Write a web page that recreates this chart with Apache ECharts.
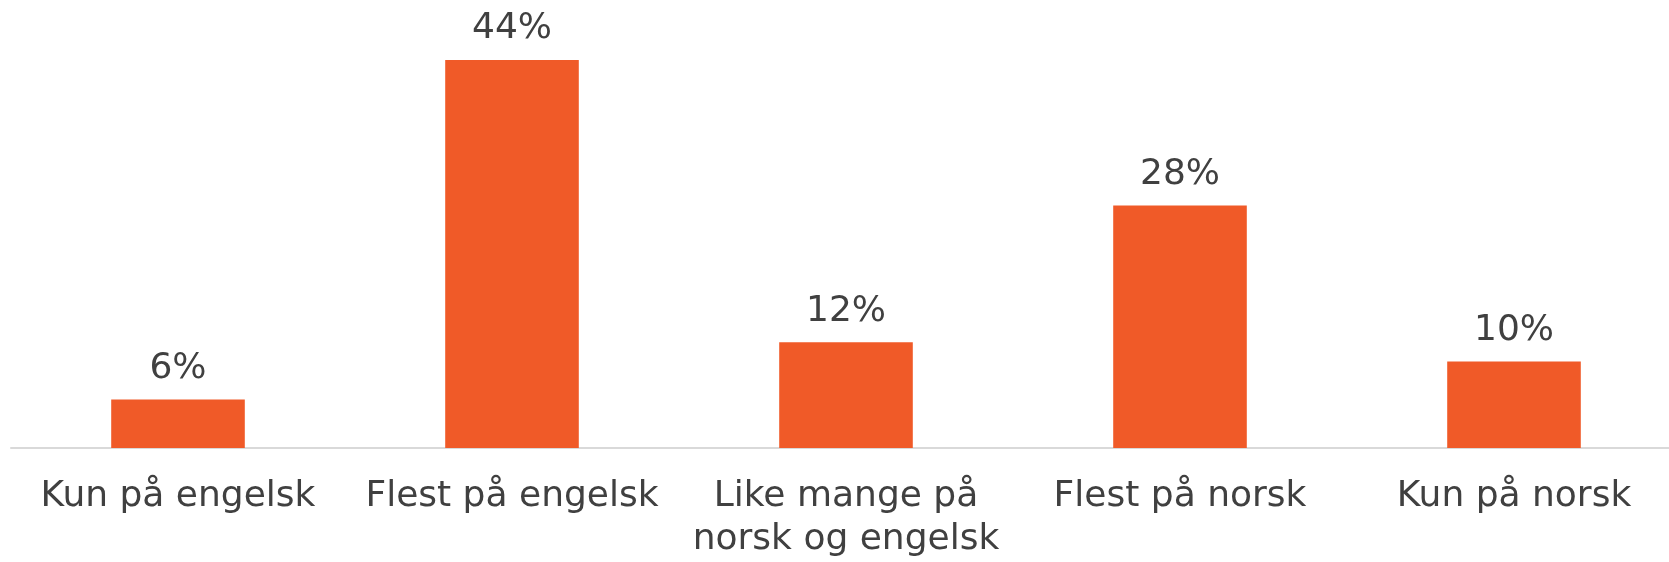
<!DOCTYPE html>
<html>
<head>
<meta charset="utf-8">
<script src="https://cdn.jsdelivr.net/npm/echarts@6/dist/echarts.min.js"></script>
<style>
html,body{margin:0;padding:0;background:#fff;overflow:hidden;}
#chart{width:1681px;height:562px;}
</style>
</head>
<body>
<div id="chart"></div>
<script>
var categories = ['Kun på engelsk', 'Flest på engelsk', 'Like mange på\nnorsk og engelsk', 'Flest på norsk', 'Kun på norsk'];
var values = [5.5, 44, 12, 27.5, 9.8];
var valueLabels = ['6%', '44%', '12%', '28%', '10%'];

var chart = echarts.init(document.getElementById('chart'));
chart.setOption({
  animation: false,
  grid: { left: 11, right: 0, top: 7, bottom: 114, containLabel: false },
  xAxis: {
    type: 'category',
    data: categories,
    axisLine: { show: true, lineStyle: { color: '#d9d9d9', width: 2 } },
    axisTick: { show: false },
    axisLabel: {
      interval: 0,
      color: '#404040',
      fontFamily: 'DejaVu Sans',
      fontSize: 36,
      lineHeight: 43,
      margin: 27
    }
  },
  yAxis: {
    type: 'value',
    min: 0,
    max: 50,
    show: false,
    splitLine: { show: false }
  },
  series: [{
    type: 'bar',
    data: values,
    barWidth: '40%',
    itemStyle: { color: '#F05A28' },
    label: {
      show: true,
      position: 'top',
      distance: 13,
      color: '#404040',
      fontFamily: 'DejaVu Sans',
      fontSize: 36,
      formatter: function (p) { return valueLabels[p.dataIndex]; }
    }
  }]
});
</script>
</body>
</html>
